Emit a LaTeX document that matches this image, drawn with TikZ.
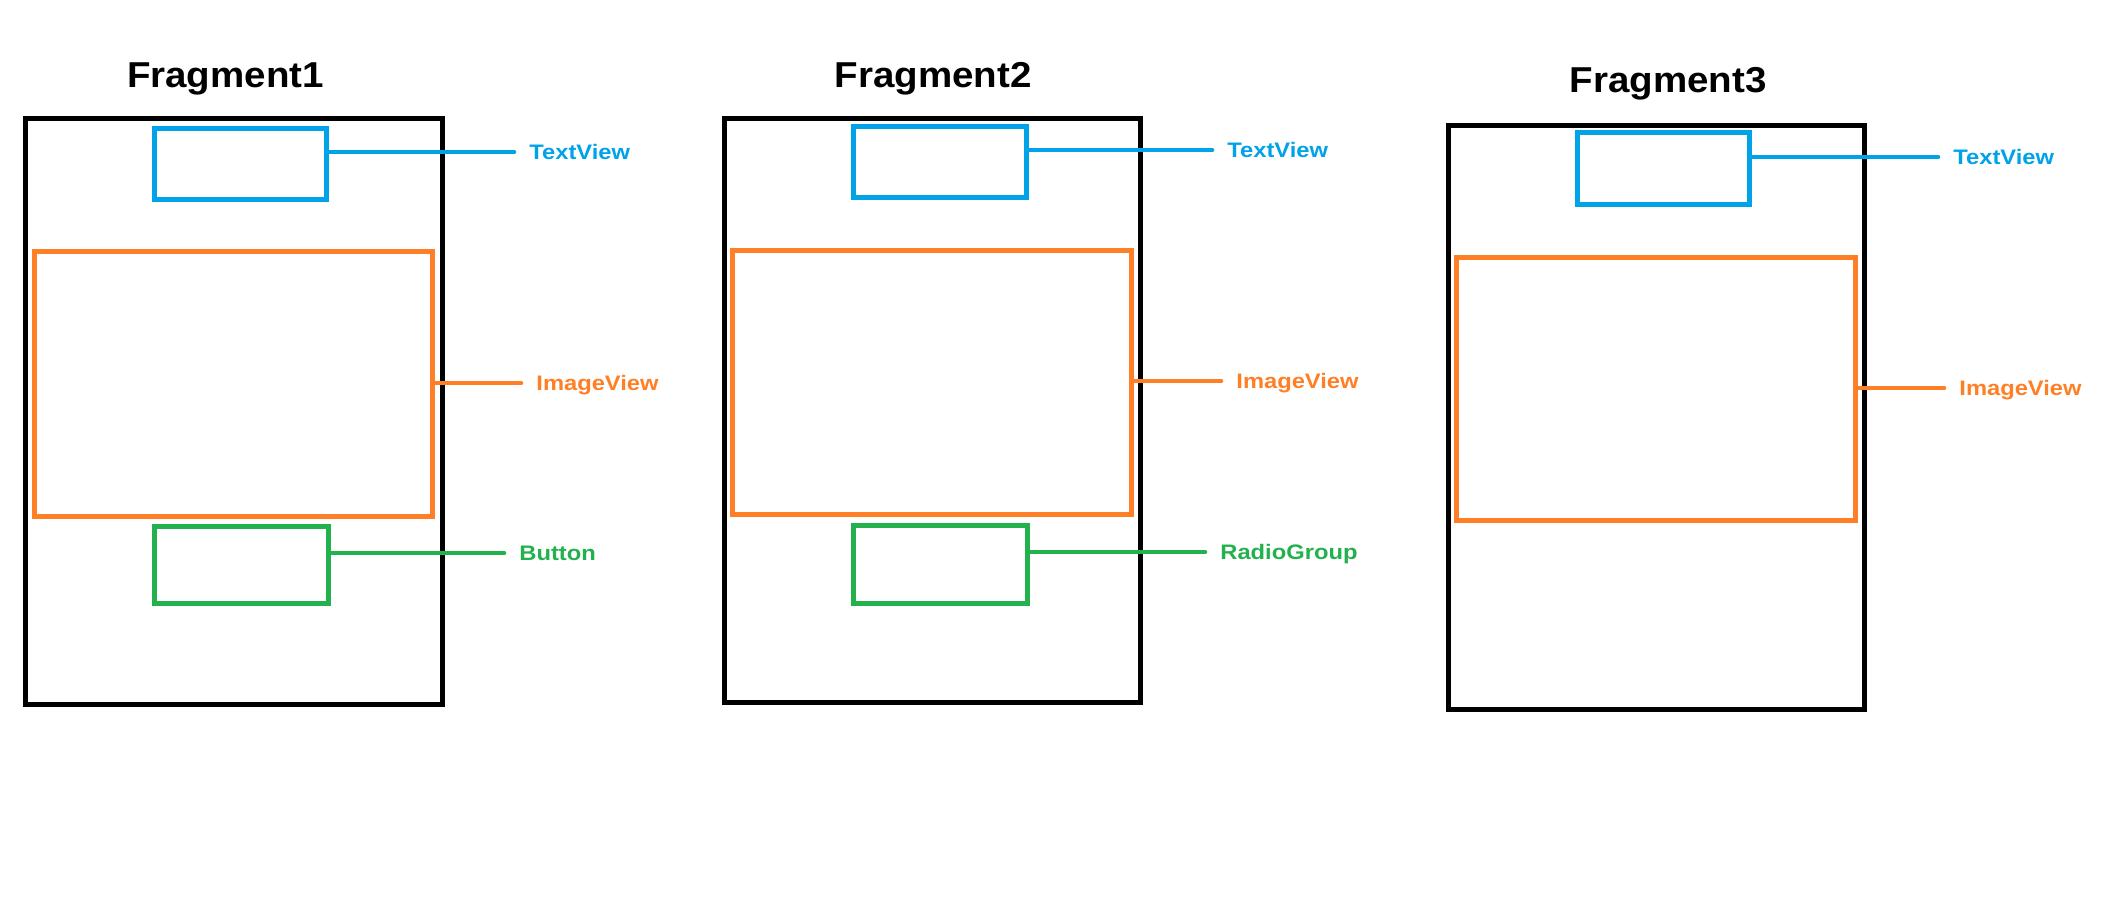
\documentclass[tikz,border=0pt]{standalone}
\usepackage{fontspec}
\setmainfont{Liberation Sans}
\newfontfamily\titlefont[FakeStretch=1.07]{Liberation Sans Bold}
\newfontfamily\labfont[FakeStretch=1.13]{Liberation Sans Bold}
\definecolor{pblue}{RGB}{0,162,232}
\definecolor{porange}{RGB}{255,127,39}
\definecolor{pgreen}{RGB}{34,177,76}
\tikzset{
  frame/.style={draw=black, line width=2.5pt, minimum width=#1, inner sep=0pt},
  cbox/.style={draw=#1, line width=2.5pt, inner sep=0pt},
  conn/.style={draw=#1, line width=2.3pt, line cap=round},
  lab/.style={text=#1, font=\labfont\fontsize{10.5}{12}\selectfont, anchor=west, inner xsep=7.5pt, inner ysep=0pt, text height=7.5pt, text depth=0pt},
  ttl/.style={font=\titlefont\fontsize{18}{21}\selectfont, inner sep=0pt, text height=12.9pt, text depth=0pt}
}
\begin{document}
\begin{tikzpicture}[x=0.5pt,y=-0.5pt]
\useasboundingbox (0,0) rectangle (2106,921);
% ---------- Fragment1
\node[ttl] (t1) at (225.5,74.5) {Fragment1};
\node[frame=208.5pt, minimum height=293pt] (f1) at (233.5,411) {};
\node[cbox=pblue, minimum width=86pt, minimum height=35.5pt] (tv1) at (240,163.5) {};
\node[cbox=porange, minimum width=199pt, minimum height=132.5pt] (iv1) at (233,383.5) {};
\node[cbox=pgreen, minimum width=87pt, minimum height=38.5pt] (bt1) at (241,564.5) {};
\node[lab=pblue] (ltv1) at (514,152) {TextView};
\node[lab=porange] (liv1) at (521,383) {ImageView};
\node[lab=pgreen] (lbt1) at (504,553) {Button};
\draw[conn=pblue] (tv1.east |- ltv1.west) -- (ltv1.west);
\draw[conn=porange] (iv1.east |- liv1.west) -- (liv1.west);
\draw[conn=pgreen] (bt1.east |- lbt1.west) -- (lbt1.west);
% ---------- Fragment2
\node[ttl] (t2) at (933,74.5) {Fragment2};
\node[frame=208pt, minimum height=292pt] (f2) at (932,410) {};
\node[cbox=pblue, minimum width=86.5pt, minimum height=35.5pt] (tv2) at (939.5,161.5) {};
\node[cbox=porange, minimum width=199.5pt, minimum height=132pt] (iv2) at (931.5,382) {};
\node[cbox=pgreen, minimum width=87pt, minimum height=39pt] (rg2) at (940,564) {};
\node[lab=pblue] (ltv2) at (1212,150) {TextView};
\node[lab=porange] (liv2) at (1221,381) {ImageView};
\node[lab=pgreen] (lrg2) at (1205,552) {RadioGroup};
\draw[conn=pblue] (tv2.east |- ltv2.west) -- (ltv2.west);
\draw[conn=porange] (iv2.east |- liv2.west) -- (liv2.west);
\draw[conn=pgreen] (rg2.east |- lrg2.west) -- (lrg2.west);
% ---------- Fragment3
\node[ttl] (t3) at (1668,79.5) {Fragment3};
\node[frame=208pt, minimum height=292pt] (f3) at (1656,417) {};
\node[cbox=pblue, minimum width=86pt, minimum height=36pt] (tv3) at (1663,168) {};
\node[cbox=porange, minimum width=199.5pt, minimum height=131.5pt] (iv3) at (1655.5,388.5) {};
\node[lab=pblue] (ltv3) at (1938,157) {TextView};
\node[lab=porange] (liv3) at (1944,388) {ImageView};
\draw[conn=pblue] (tv3.east |- ltv3.west) -- (ltv3.west);
\draw[conn=porange] (iv3.east |- liv3.west) -- (liv3.west);
\end{tikzpicture}
\end{document}
